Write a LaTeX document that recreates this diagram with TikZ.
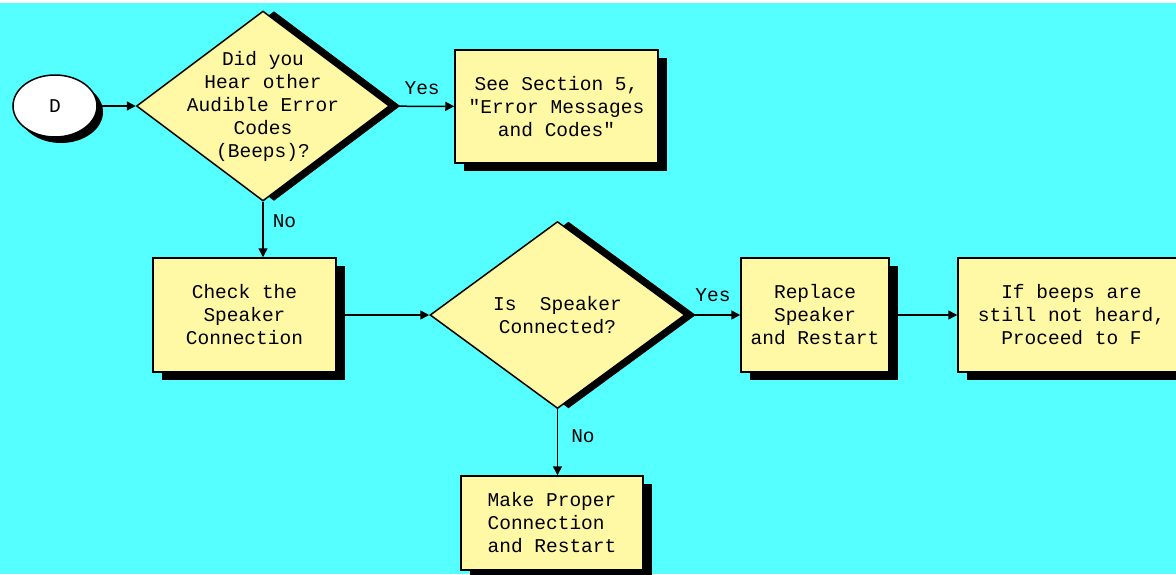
\documentclass[tikz,border=0pt]{standalone}
\usepackage{fontspec}
\setmonofont{Liberation Mono}
\usetikzlibrary{shapes.geometric,shadows,arrows.meta}
\definecolor{bgcyan}{HTML}{55FFFF}
\definecolor{chartyellow}{HTML}{FFF8A4}
\begin{document}
\begin{tikzpicture}[x=1pt, y=-1pt,
  every node/.style={font=\ttfamily\fontsize{19.5}{23}\selectfont},
  blackshadow/.style={drop shadow={shadow xshift=#1, shadow yshift=-8pt, fill=black, opacity=1}},
  flowbox/.style={rectangle, draw, line width=1.5pt, fill=chartyellow, inner sep=0pt, align=center, blackshadow=9pt},
  decision/.style={diamond, draw, line width=1.5pt, fill=chartyellow, inner sep=-30pt, aspect=1.33, align=center,
    drop shadow={shadow xshift=11pt, shadow yshift=0pt, fill=black, opacity=1}},
  flowarrow/.style={line width=1.5pt, -{Triangle[length=9pt, width=9pt]}},
  answer/.style={inner sep=0pt}]

% Background
\clip (0,0) rectangle (1176,574);
\fill[white] (0,0) rectangle (1176,3);
\fill[bgcyan] (0,3) rectangle (1176,574);

% Start and first question
\node[ellipse, draw, line width=1.5pt, fill=white, minimum width=84pt, minimum height=62pt,
  drop shadow={shadow xshift=6pt, shadow yshift=-6pt, fill=black, opacity=1}] (startD) at (55,106) {D};
\node[decision, minimum width=253pt, minimum height=190pt] (hearBeeps) at (263,106) {Did you\\Hear other\\Audible Error\\Codes\\(Beeps)?};
\node[flowbox, minimum width=203pt, minimum height=113pt] (seeSection) at (556.5,106.5) {See Section 5,\\"Error Messages\\and Codes"};

% Speaker check
\node[flowbox, minimum width=183pt, minimum height=114pt] (checkSpeaker) at (244.5,315) {Check the\\Speaker\\Connection};
\node[decision, minimum width=255pt, minimum height=187pt] (isConnected) at (557.5,315) {Is\ \ Speaker\\Connected?};
\node[flowbox, minimum width=148pt, minimum height=114pt] (replaceSpeaker) at (815,315) {Replace\\Speaker\\and Restart};
\node[flowbox, minimum width=227pt, minimum height=114pt] (proceedF) at (1071.5,315) {If beeps are\\still not heard,\\Proceed to F};
\node[flowbox, align=left, minimum width=182pt, minimum height=94pt] (makeConnection) at (552,523) {Make Proper\\Connection\\and Restart};

% Connectors
\draw[flowarrow] (startD) -- (hearBeeps);
\draw[flowarrow] (hearBeeps) -- node[answer, above=11pt] {Yes} (seeSection);
\draw[flowarrow] (hearBeeps.south) -- node[answer, right=9pt, pos=0.35] {No} (hearBeeps.south |- checkSpeaker.north);
\draw[flowarrow] (checkSpeaker) -- (isConnected);
\draw[flowarrow] (isConnected) -- node[answer, above=13pt] {Yes} (replaceSpeaker);
\draw[flowarrow] (replaceSpeaker) -- (proceedF);
\draw[flowarrow] (isConnected.south) -- node[answer, right=13pt, pos=0.41] {No} (isConnected.south |- makeConnection.north);
\end{tikzpicture}
\end{document}
